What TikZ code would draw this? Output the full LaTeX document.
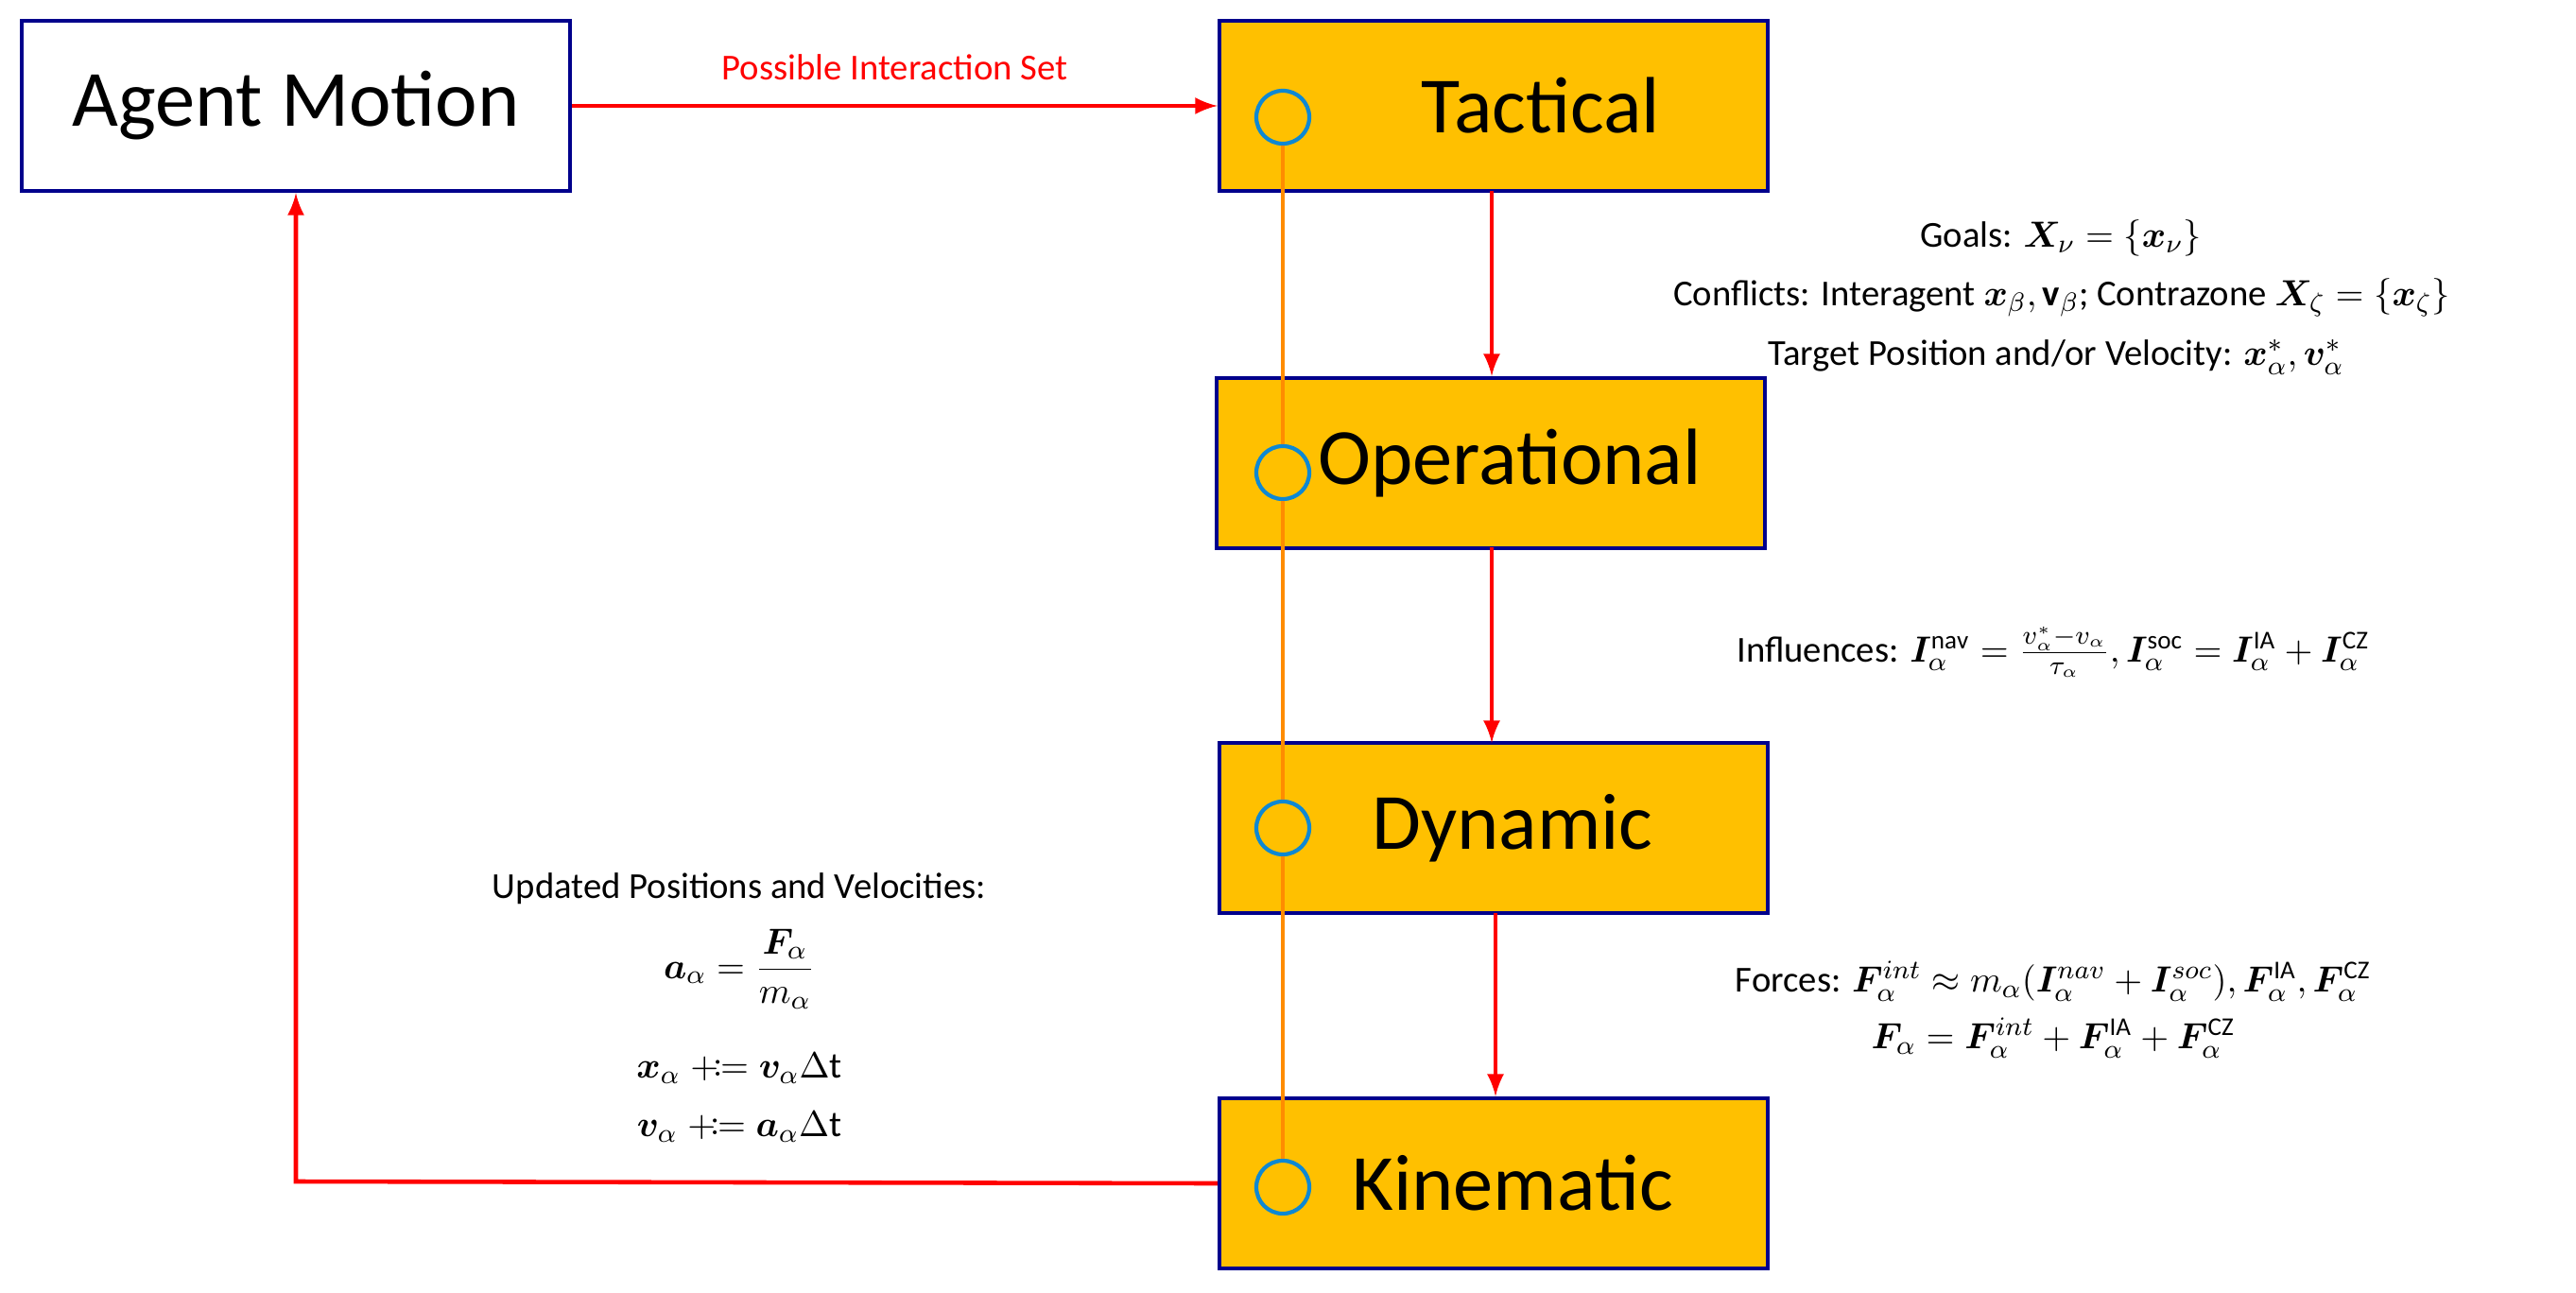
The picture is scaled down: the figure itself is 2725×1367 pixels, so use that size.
\documentclass[tikz,border=0pt]{standalone}
\usepackage{amsmath,mathtools,bm}
\usepackage{fontspec}
\setmainfont{Carlito}
\begin{document}
\begin{tikzpicture}[x=0.01cm,y=-0.01cm,
 box/.style={draw=blue!55!black,line width=1.2pt,fill={rgb,255:red,255;green,192;blue,0},minimum width=580*0.01cm,minimum height=180*0.01cm,font=\fontsize{24}{28}\selectfont,inner sep=0},
 ring/.style={draw=cyan!70!blue,line width=1.2pt,circle,minimum size=56*0.01cm,inner sep=0},
 arr/.style={red,line width=1.3pt,-latex},
 lab/.style={font=\fontsize{11}{13}\selectfont,inner sep=1pt}]
\useasboundingbox (0,0) rectangle (2725,1367);
\node[box,fill=white] (agent) at (313,112) {Agent Motion};
\node[box] (tac) at (1580,112) {\hspace*{1.0cm}Tactical};
\node[box] (op) at (1577,490) {\hspace*{0.4cm}Operational};
\node[box] (dyn) at (1580,876) {\hspace*{0.4cm}Dynamic};
\node[box] (kin) at (1580,1252) {\hspace*{0.4cm}Kinematic};
\node[ring] (c1) at (1357,124) {};
\node[ring] (c2) at (1357,500) {};
\node[ring] (c3) at (1357,876) {};
\node[ring] (c4) at (1357,1256) {};
\draw[orange!90!yellow,line width=1pt] (c1) -- (c2) (c2) -- (c3) (c3) -- (c4);
\draw[arr] (agent.east) -- (tac.west) node[midway,above=6pt,lab] {Possible Interaction Set};
\draw[arr] (1578,202) -- (1578,398);
\draw[arr] (1578,579) -- (1578,786);
\draw[arr] (1582,966) -- (1582,1160);
\coordinate (k) at (313,1250);
\draw[arr] (kin.west) -- (k) -- (agent.south);
\node[lab] (g1) at (2180,252) {Goals: $\bm{X}_\nu=\{\bm{x}_\nu\}$};
\node[lab] (g2) at (2181,315) {Conflicts: Interagent $\bm{x}_\beta,\mathbf{v}_\beta$; Contrazone $\bm{X}_\zeta=\{\bm{x}_\zeta\}$};
\node[lab] (g3) at (2175,378) {Target Position and/or Velocity: $\bm{x}^*_\alpha,\bm{v}^*_\alpha$};
\node[lab] (inf) at (2172,690) {Influences: $\bm{I}_\alpha^{\mathrm{nav}}=\frac{v_\alpha^*-v_\alpha}{\tau_\alpha},\bm{I}_\alpha^{\mathrm{soc}}=\bm{I}_\alpha^{\mathrm{IA}}+\bm{I}_\alpha^{\mathrm{CZ}}$};
\node[lab] (f1) at (2172,1038) {Forces: $\bm{F}_\alpha^{int}\approx m_\alpha(\bm{I}_\alpha^{nav}+\bm{I}_\alpha^{soc}),\bm{F}_\alpha^{\mathrm{IA}},\bm{F}_\alpha^{\mathrm{CZ}}$};
\node[lab] (f2) at (2172,1098) {$\bm{F}_\alpha=\bm{F}_\alpha^{int}+\bm{F}_\alpha^{\mathrm{IA}}+\bm{F}_\alpha^{\mathrm{CZ}}$};
\node[lab] (u1) at (782,940) {Updated Positions and Velocities:};
\node[lab] (u2) at (782,1025) {$\bm{a}_\alpha=\dfrac{\bm{F}_\alpha}{m_\alpha}$};
\node[lab] (u3) at (782,1130) {$\bm{x}_\alpha\mathrel{+}\!\coloneqq\bm{v}_\alpha\Delta\mathrm{t}$};
\node[lab] (u4) at (782,1192) {$\bm{v}_\alpha\mathrel{+}\!\coloneqq\bm{a}_\alpha\Delta\mathrm{t}$};
\end{tikzpicture}
\end{document}
